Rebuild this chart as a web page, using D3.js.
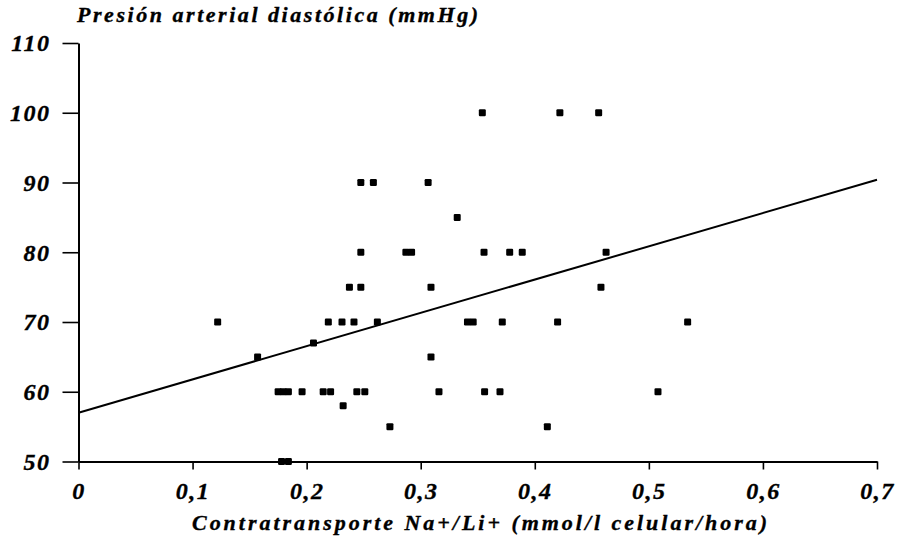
<!DOCTYPE html>
<html>
<head>
<meta charset="utf-8">
<script src="https://cdn.jsdelivr.net/npm/d3@7"></script>
<style>
  html, body { margin: 0; padding: 0; background: #fff; }
</style>
</head>
<body>
<svg id="chart" width="899" height="541"></svg>
<script>
// Na+/Li+ countertransport vs diastolic blood pressure
const contratransporte = [
  0.354, 0.422, 0.456,
  0.2475, 0.2585, 0.3065,
  0.332,
  0.2475, 0.287, 0.292, 0.3555, 0.378, 0.389, 0.4625,
  0.2375, 0.2475, 0.309, 0.458,
  0.122, 0.219, 0.231, 0.2415, 0.262, 0.341, 0.346, 0.3715, 0.420, 0.534,
  0.206,
  0.157, 0.309,
  0.175, 0.1795, 0.184, 0.196, 0.2145, 0.221, 0.244, 0.251, 0.316, 0.356, 0.3695, 0.508,
  0.232,
  0.273, 0.411,
  0.178, 0.184
];
const presionDiastolica = [
  100, 100, 100,
  90, 90, 90,
  85,
  80, 80, 80, 80, 80, 80, 80,
  75, 75, 75, 75,
  70, 70, 70, 70, 70, 70, 70, 70, 70, 70,
  67,
  65, 65,
  60, 60, 60, 60, 60, 60, 60, 60, 60, 60, 60, 60,
  58,
  55, 55,
  50, 50
];
// regression line: PAD = a + b * contratransporte
const regresion = { intercepto: 57.0, pendiente: 47.7 };
const xTicks = [0, 0.1, 0.2, 0.3, 0.4, 0.5, 0.6, 0.7];
const yTicks = [50, 60, 70, 80, 90, 100, 110];
const tituloY = "Presión arterial diastólica (mmHg)";
const tituloX = "Contratransporte Na+/Li+ (mmol/l celular/hora)";

const FONT = "'Liberation Serif', 'Times New Roman', serif";

const svg = d3.select("#chart");
const x = d3.scaleLinear().domain([0, 0.7]).range([78.5, 877]);
const y = d3.scaleLinear().domain([50, 110]).range([461.5, 43]);

const fmt = d => d === 0 ? "0" : d3.format(".1f")(d).replace(".", ",");

// heavy bold-italic serif lettering
function styleText(sel, size, spacing) {
  sel.attr("font-family", FONT)
    .attr("font-size", size)
    .attr("font-weight", "bold")
    .attr("font-style", "italic")
    .attr("letter-spacing", spacing)
    .attr("fill", "#000")
    .attr("stroke", "#000")
    .attr("stroke-width", 0.35);
}

// y axis
const gy = svg.append("g")
  .attr("transform", `translate(${x(0)},0)`)
  .call(d3.axisLeft(y).tickValues(yTicks).tickSize(16).tickSizeOuter(0).tickPadding(12).tickFormat(d3.format("d")));
gy.attr("font-family", null).attr("font-size", null);
gy.select(".domain").attr("stroke", "#000").attr("stroke-width", 2);
gy.selectAll(".tick line").attr("stroke", "#000").attr("stroke-width", 1.6);
gy.selectAll(".tick text").call(styleText, 24, 1.5).attr("dy", "0.33em");

// x axis
const gx = svg.append("g")
  .attr("transform", `translate(0,${y(50)})`)
  .call(d3.axisBottom(x).tickValues(xTicks).tickSize(8).tickSizeOuter(0).tickPadding(12).tickFormat(fmt));
gx.attr("font-family", null).attr("font-size", null);
gx.select(".domain").attr("stroke", "#000").attr("stroke-width", 2);
gx.selectAll(".tick line").attr("stroke", "#000").attr("stroke-width", 1.6);
gx.selectAll(".tick text").call(styleText, 24, 1.5);

// regression line
svg.append("line")
  .attr("x1", x(0)).attr("y1", y(regresion.intercepto))
  .attr("x2", x(0.7)).attr("y2", y(regresion.intercepto + regresion.pendiente * 0.7))
  .attr("stroke", "#000").attr("stroke-width", 2);

// points
const s = 7;
svg.append("g").selectAll("rect")
  .data(d3.range(contratransporte.length))
  .join("rect")
  .attr("x", i => x(contratransporte[i]) - s / 2)
  .attr("y", i => y(presionDiastolica[i]) - s / 2)
  .attr("width", s).attr("height", s)
  .attr("rx", 1.2)
  .attr("fill", "#000");

// axis titles
svg.append("text")
  .attr("x", 77).attr("y", 22)
  .attr("textLength", 401).attr("lengthAdjust", "spacing")
  .call(styleText, 22, 0)
  .text(tituloY);

svg.append("text")
  .attr("x", 192).attr("y", 530)
  .attr("textLength", 575).attr("lengthAdjust", "spacing")
  .call(styleText, 22, 0)
  .text(tituloX);
</script>
</body>
</html>
